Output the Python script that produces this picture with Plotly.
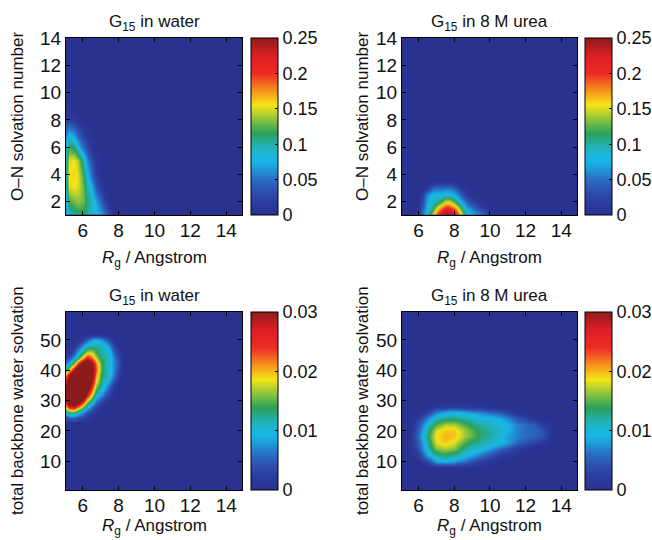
import plotly.graph_objects as go

# ---------------- data ----------------
# Panel 1: O-N solvation number vs Rg, G15 in water
water_on_x = [5.0, 5.25, 5.5, 5.75, 6.0, 6.25, 6.5, 6.75, 7.0, 7.25, 7.5]
water_on_y = [1, 2, 3, 4, 5, 6, 7, 8, 9]
water_on_z = [
    [0.06, 0.09, 0.10, 0.11, 0.11, 0.10, 0.09, 0.08, 0.07, 0.05, 0.02],
    [0.07, 0.12, 0.13, 0.135, 0.13, 0.11, 0.09, 0.07, 0.045, 0.02, 0.0],
    [0.08, 0.15, 0.155, 0.15, 0.13, 0.10, 0.07, 0.04, 0.02, 0.0, 0.0],
    [0.085, 0.155, 0.16, 0.15, 0.12, 0.08, 0.045, 0.02, 0.0, 0.0, 0.0],
    [0.085, 0.15, 0.155, 0.14, 0.10, 0.06, 0.03, 0.01, 0.0, 0.0, 0.0],
    [0.07, 0.12, 0.11, 0.08, 0.05, 0.03, 0.01, 0.0, 0.0, 0.0, 0.0],
    [0.05, 0.075, 0.06, 0.04, 0.02, 0.01, 0.0, 0.0, 0.0, 0.0, 0.0],
    [0.015, 0.02, 0.015, 0.01, 0.0, 0.0, 0.0, 0.0, 0.0, 0.0, 0.0],
    [0.0, 0.0, 0.0, 0.0, 0.0, 0.0, 0.0, 0.0, 0.0, 0.0, 0.0],
]

# Panel 2: O-N solvation number vs Rg, G15 in 8 M urea
urea_on_x = [6.0, 6.25, 6.5, 6.75, 7.0, 7.25, 7.5, 7.75, 8.0, 8.25, 8.5,
             8.75, 9.0, 9.25, 9.5, 9.75, 10.0, 10.25]
urea_on_y = [1.0, 1.5, 2.0, 2.5, 3.0, 3.5]
urea_on_z = [
    [0.02, 0.06, 0.09, 0.14, 0.19, 0.23, 0.25, 0.25, 0.23, 0.19, 0.13, 0.09, 0.075, 0.065, 0.055, 0.04, 0.02, 0.0],
    [0.01, 0.05, 0.08, 0.11, 0.15, 0.19, 0.21, 0.21, 0.19, 0.15, 0.10, 0.07, 0.055, 0.04, 0.025, 0.015, 0.005, 0.0],
    [0.0, 0.04, 0.07, 0.085, 0.10, 0.12, 0.15, 0.15, 0.12, 0.09, 0.06, 0.04, 0.025, 0.015, 0.005, 0.0, 0.0, 0.0],
    [0.0, 0.03, 0.065, 0.08, 0.08, 0.08, 0.085, 0.085, 0.075, 0.055, 0.03, 0.01, 0.0, 0.0, 0.0, 0.0, 0.0, 0.0],
    [0.0, 0.0, 0.01, 0.04, 0.05, 0.045, 0.05, 0.05, 0.04, 0.02, 0.005, 0.0, 0.0, 0.0, 0.0, 0.0, 0.0, 0.0],
    [0.0] * 18,
]

# Panel 3: total backbone water solvation vs Rg, G15 in water
water_bb_x = [5.0, 5.25, 5.5, 5.75, 6.0, 6.25, 6.5, 6.75, 7.0, 7.25, 7.5, 7.75, 8.0, 8.25]
water_bb_y = [24, 26, 28, 30, 32, 34, 36, 38, 40, 42, 44, 46, 48, 50, 52]
water_bb_z = [
    [0.002, 0.004, 0.004, 0.003, 0.002, 0.001, 0, 0, 0, 0, 0, 0, 0, 0],
    [0.009, 0.013, 0.013, 0.010, 0.007, 0.004, 0.002, 0, 0, 0, 0, 0, 0, 0],
    [0.018, 0.026, 0.027, 0.022, 0.016, 0.010, 0.006, 0.003, 0.001, 0, 0, 0, 0, 0],
    [0.025, 0.038, 0.042, 0.036, 0.027, 0.018, 0.012, 0.007, 0.004, 0.002, 0, 0, 0, 0],
    [0.028, 0.045, 0.055, 0.050, 0.040, 0.027, 0.018, 0.011, 0.008, 0.005, 0.002, 0, 0, 0],
    [0.028, 0.045, 0.060, 0.060, 0.050, 0.035, 0.023, 0.015, 0.011, 0.008, 0.004, 0.001, 0, 0],
    [0.025, 0.040, 0.055, 0.060, 0.055, 0.040, 0.028, 0.018, 0.013, 0.010, 0.007, 0.003, 0, 0],
    [0.020, 0.030, 0.045, 0.055, 0.055, 0.045, 0.031, 0.021, 0.014, 0.012, 0.010, 0.006, 0.002, 0],
    [0.012, 0.018, 0.028, 0.040, 0.050, 0.045, 0.033, 0.023, 0.015, 0.012, 0.010, 0.007, 0.003, 0],
    [0.006, 0.010, 0.016, 0.025, 0.035, 0.040, 0.031, 0.022, 0.015, 0.012, 0.010, 0.007, 0.004, 0],
    [0.002, 0.004, 0.008, 0.013, 0.020, 0.026, 0.022, 0.017, 0.013, 0.012, 0.010, 0.007, 0.003, 0],
    [0, 0.001, 0.004, 0.008, 0.012, 0.017, 0.017, 0.014, 0.012, 0.011, 0.009, 0.005, 0.002, 0],
    [0, 0, 0.001, 0.004, 0.008, 0.011, 0.012, 0.012, 0.011, 0.010, 0.007, 0.003, 0, 0],
    [0, 0, 0, 0, 0.002, 0.005, 0.008, 0.009, 0.008, 0.006, 0.003, 0, 0, 0],
    [0] * 14,
]

# Panel 4: total backbone water solvation vs Rg, G15 in 8 M urea
urea_bb_x = [5.5, 6.0, 6.5, 7.0, 7.5, 8.0, 8.5, 9.0, 9.5, 10.0, 10.5, 11.0, 11.5, 12.0, 12.5, 13.0, 13.5]
urea_bb_y = [8, 10, 12, 14, 16, 18, 20, 22, 24, 26, 28]
urea_bb_z = [
    [0] * 17,
    [0, 0, 0.003, 0.008, 0.009, 0.008, 0.006, 0.004, 0.002, 0.001, 0, 0, 0, 0, 0, 0, 0],
    [0, 0.002, 0.008, 0.012, 0.013, 0.012, 0.010, 0.008, 0.006, 0.004, 0.002, 0.001, 0, 0, 0, 0, 0],
    [0, 0.004, 0.011, 0.016, 0.017, 0.016, 0.013, 0.011, 0.010, 0.008, 0.006, 0.004, 0.002, 0.001, 0, 0, 0],
    [0, 0.005, 0.012, 0.018, 0.0195, 0.018, 0.015, 0.013, 0.012, 0.011, 0.010, 0.008, 0.006, 0.004, 0.003, 0.001, 0],
    [0, 0.006, 0.013, 0.019, 0.020, 0.0195, 0.017, 0.015, 0.013, 0.012, 0.010, 0.008, 0.007, 0.006, 0.0055, 0.004, 0],
    [0, 0.005, 0.012, 0.018, 0.0195, 0.0195, 0.017, 0.015, 0.013, 0.012, 0.011, 0.009, 0.007, 0.006, 0.0055, 0.004, 0],
    [0, 0.004, 0.010, 0.015, 0.017, 0.017, 0.015, 0.013, 0.012, 0.011, 0.010, 0.009, 0.007, 0.006, 0.005, 0.002, 0],
    [0, 0.002, 0.007, 0.011, 0.013, 0.013, 0.012, 0.011, 0.010, 0.010, 0.009, 0.007, 0.005, 0.003, 0.001, 0, 0],
    [0, 0, 0.003, 0.007, 0.009, 0.010, 0.009, 0.008, 0.007, 0.006, 0.005, 0.003, 0.001, 0, 0, 0, 0],
    [0, 0, 0, 0.001, 0.002, 0.002, 0.002, 0.001, 0.001, 0, 0, 0, 0, 0, 0, 0, 0],
]

titles = ["G<sub>15</sub> in water", "G<sub>15</sub> in 8 M urea",
          "G<sub>15</sub> in water", "G<sub>15</sub> in 8 M urea"]
x_title = "<i>R</i><sub>g</sub> / Angstrom"
y_titles = ["O\u2013N solvation number", "total backbone water solvation"]
x_ticks = [6, 8, 10, 12, 14]
y_ticks_top = [2, 4, 6, 8, 10, 12, 14]
y_ticks_bot = [10, 20, 30, 40, 50]
cb_top_vals = [0, 0.05, 0.1, 0.15, 0.2, 0.25]
cb_top_text = ["0", "0.05", "0.1", "0.15", "0.2", "0.25"]
cb_bot_vals = [0, 0.01, 0.02, 0.03]
cb_bot_text = ["0", "0.01", "0.02", "0.03"]

# ---------------- styling ----------------
W, H = 652, 540
FONT = "Liberation Sans, Arial, Helvetica, sans-serif"
TICK_SIZE = 19
CB_SIZE = 18
LABEL_SIZE = 17
INK = "#111111"

jet_like = [
    [0.00, "#2a3290"],
    [0.06, "#2b3a9c"],
    [0.13, "#2d4dac"],
    [0.20, "#2a6cc4"],
    [0.26, "#1e9ad8"],
    [0.31, "#17b8e8"],
    [0.38, "#22b2bc"],
    [0.46, "#2aa15a"],
    [0.54, "#8cc23e"],
    [0.62, "#f4e516"],
    [0.70, "#f7941d"],
    [0.80, "#ee2a24"],
    [0.90, "#dc1f26"],
    [1.00, "#8e1b1b"],
]

# plot rectangles in pixels: (left, right, top, bottom)
boxes = [(66, 242, 38, 215), (402, 577, 38, 215), (66, 242, 312, 490), (402, 577, 312, 490)]
cb_left = [251, 585, 251, 585]


def px(xp):
    return xp / W


def py(yp):
    return 1 - yp / H


data_sets = [
    (water_on_x, water_on_y, water_on_z, 0.25, cb_top_vals, cb_top_text),
    (urea_on_x, urea_on_y, urea_on_z, 0.25, cb_top_vals, cb_top_text),
    (water_bb_x, water_bb_y, water_bb_z, 0.03, cb_bot_vals, cb_bot_text),
    (urea_bb_x, urea_bb_y, urea_bb_z, 0.03, cb_bot_vals, cb_bot_text),
]

fig = go.Figure()
layout = dict(
    template="none",
    width=W, height=H, margin=dict(l=0, r=0, t=0, b=0, pad=0, autoexpand=False),
    paper_bgcolor="white", plot_bgcolor="#2a3290",
    font=dict(family=FONT, size=TICK_SIZE, color=INK),
    showlegend=False,
)
annotations = []

for i, (xs, ys, zs, zmax, cvals, ctext) in enumerate(data_sets):
    l, r, t, b = boxes[i]
    n = "" if i == 0 else str(i + 1)
    fig.add_trace(go.Heatmap(
        x=xs, y=ys, z=zs, zmin=0, zmax=zmax, zsmooth="best",
        colorscale=jet_like, xaxis="x" + n, yaxis="y" + n,
        colorbar=dict(
            x=px(cb_left[i]), xanchor="left", xpad=0, ypad=0,
            y=(py(t) + py(b)) / 2, yanchor="middle",
            len=(b - t) / H, lenmode="fraction",
            thickness=27, thicknessmode="pixels",
            outlinewidth=1, outlinecolor="black", borderwidth=0,
            tickvals=cvals, ticktext=ctext, ticks="inside", ticklen=3,
            tickcolor="black", tickfont=dict(size=CB_SIZE, family=FONT, color=INK),
        ),
    ))
    top_row = i < 2
    layout["xaxis" + n] = dict(
        domain=[px(l), px(r)], anchor="y" + n, range=[5.07, 14.88],
        tickvals=x_ticks, ticks="inside", ticklen=4, tickcolor="black",
        showline=True, linecolor="black", linewidth=1, mirror="allticks",
        showgrid=False, zeroline=False, automargin=False,
        ticklabelstandoff=-2,
        tickfont=dict(size=TICK_SIZE, family=FONT, color=INK),
    )
    layout["yaxis" + n] = dict(
        domain=[py(b), py(t)], anchor="x" + n,
        range=[1.0, 14.03] if top_row else [0.5, 59.2],
        tickvals=y_ticks_top if top_row else y_ticks_bot,
        ticks="inside", ticklen=4, tickcolor="black",
        showline=True, linecolor="black", linewidth=1, mirror="allticks",
        showgrid=False, zeroline=False, automargin=False,
        tickfont=dict(size=TICK_SIZE, family=FONT, color=INK),
    )
    cx = (l + r) / 2
    # panel title
    annotations.append(dict(
        text=titles[i], x=px(cx), y=py(t - 15), xref="paper", yref="paper",
        xanchor="center", yanchor="middle", showarrow=False,
        font=dict(size=LABEL_SIZE, family=FONT, color=INK),
    ))
    # x-axis title
    annotations.append(dict(
        text=x_title, x=px(cx), y=py(b + 44 if top_row else b + 37),
        xref="paper", yref="paper",
        xanchor="center", yanchor="middle", showarrow=False,
        font=dict(size=LABEL_SIZE, family=FONT, color=INK),
    ))
    # y-axis title
    ytx = 17 if i % 2 == 0 else 362
    yty = 117 if top_row else 401
    annotations.append(dict(
        text=y_titles[0] if top_row else y_titles[1],
        x=px(ytx), y=py(yty), xref="paper", yref="paper",
        xanchor="center", yanchor="middle", textangle=-90, showarrow=False,
        font=dict(size=LABEL_SIZE, family=FONT, color=INK),
    ))

layout["annotations"] = annotations
fig.update_layout(**layout)
fig.write_html("out.html")
